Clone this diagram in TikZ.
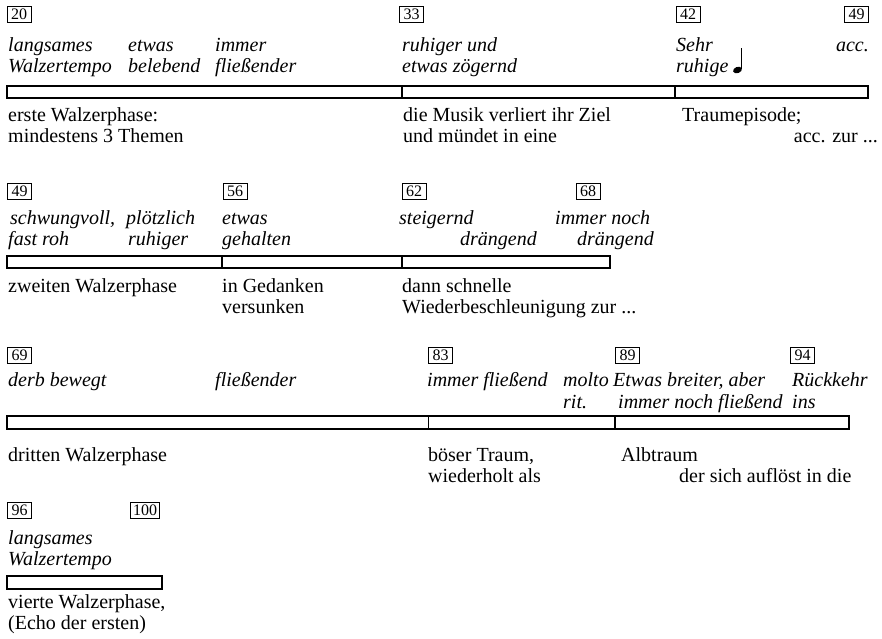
\documentclass[tikz,border=0pt]{standalone}
\usepackage{fontspec}
\setmainfont{Liberation Serif}
\begin{document}
\begin{tikzpicture}[x=1pt,y=-1pt,
  rom/.style={anchor=base west, inner sep=0pt, font=\fontsize{20}{22}\selectfont},
  romr/.style={rom, anchor=base east},
  ita/.style={rom, font=\fontsize{20}{22}\selectfont\itshape},
  itar/.style={ita, anchor=base east},
  num/.style={draw, line width=0.7pt, inner sep=0pt, minimum width=24pt, minimum height=16pt, font=\fontsize{16}{18}\selectfont},
  barbox/.style={draw, line width=1.2pt},
  divider/.style={line width=1.8pt}]
\useasboundingbox (0,0) rectangle (882,638);

% ---------- Row 1 ----------
\node[num] (n20) at (19,14.5) {20};
\node[num] (n33) at (411.5,14.5) {33};
\node[num] (n42) at (688,14.5) {42};
\node[num] (n49a) at (856.5,14.5) {49};

\node[ita] (a1) at (8,51) {langsames};
\node[ita] (a2) at (8,72) {Walzertempo};
\node[ita] (a3) at (128,51) {etwas};
\node[ita] (a4) at (128,72) {belebend};
\node[ita] (a5) at (215,51) {immer};
\node[ita] (a6) at (215,72) {fließender};
\node[ita] (a7) at (402,51) {ruhiger und};
\node[ita] (a8) at (402,72) {etwas zögernd};
\node[ita] (a9) at (676,51) {Sehr};
\node[ita] (a10) at (676,72) {ruhige};
\node[itar] (a11) at (869,51) {acc.};
\fill[rotate around={20:(737.5,70)}] (737.5,70) ellipse (4.6 and 3.1);
\draw[line width=1pt] (741.6,69) -- (741.6,48);

\draw[barbox] (7,86) rectangle (868,98);
\draw[divider] (402,86) -- (402,98);
\draw[divider] (675,86) -- (675,98);

\node[rom] (b1) at (8,121) {erste Walzerphase:};
\node[rom] (b2) at (8,142) {mindestens 3 Themen};
\node[rom] (b3) at (403,121) {die Musik verliert ihr Ziel};
\node[rom] (b4) at (403,142) {und mündet in eine};
\node[rom] (b5) at (682,121) {Traumepisode;};
\node[romr] (b6) at (878,142) {acc. zur ...};

% ---------- Row 2 ----------
\node[num] (n49b) at (19.5,191) {49};
\node[num] (n56) at (235,191) {56};
\node[num] (n62) at (414,191) {62};
\node[num] (n68) at (588,191) {68};

\node[ita] (c1) at (10,224) {schwungvoll,};
\node[ita] (c2) at (8,245) {fast roh};
\node[ita] (c3) at (126,224) {plötzlich};
\node[ita] (c4) at (128,245) {ruhiger};
\node[ita] (c5) at (222,224) {etwas};
\node[ita] (c6) at (222,245) {gehalten};
\node[ita] (c7) at (399,224) {steigernd};
\node[ita] (c8) at (460,245) {drängend};
\node[ita] (c9) at (555,224) {immer noch};
\node[ita] (c10) at (577,245) {drängend};

\draw[barbox] (7,256) rectangle (610,268);
\draw[divider] (222,256) -- (222,268);
\draw[divider] (402,256) -- (402,268);

\node[rom] (d1) at (8,292) {zweiten Walzerphase};
\node[rom] (d2) at (222,292) {in Gedanken};
\node[rom] (d3) at (222,313) {versunken};
\node[rom] (d4) at (402,292) {dann schnelle};
\node[rom] (d5) at (402,313) {Wiederbeschleunigung zur ...};

% ---------- Row 3 ----------
\node[num] (n69) at (19.5,355) {69};
\node[num] (n83) at (440.5,355) {83};
\node[num] (n89) at (627.5,355) {89};
\node[num] (n94) at (802.5,355) {94};

\node[ita] (e1) at (8,386) {derb bewegt};
\node[ita] (e2) at (215,386) {fließender};
\node[ita] (e3) at (427,386) {immer fließend};
\node[ita] (e4) at (563,386) {molto};
\node[ita] (e5) at (563,408) {rit.};
\node[ita] (e6) at (613,386) {Etwas breiter, aber};
\node[ita] (e7) at (618,408) {immer noch fließend};
\node[ita] (e8) at (792,386) {Rückkehr};
\node[ita] (e9) at (792,408) {ins};

\draw[barbox] (7,416) rectangle (849,429);
\draw[divider] (428.5,416) -- (428.5,429);
\draw[divider] (615,416) -- (615,429);

\node[rom] (f1) at (8,461) {dritten Walzerphase};
\node[rom] (f2) at (428,461) {böser Traum,};
\node[rom] (f3) at (428,482) {wiederholt als};
\node[rom] (f4) at (621,461) {Albtraum};
\node[rom] (f5) at (679,482) {der sich auflöst in die};

% ---------- Row 4 ----------
\node[num] (n96) at (19.5,510) {96};
\node[num, minimum width=29pt] (n100) at (145,510) {100};

\node[ita] (g1) at (8,544) {langsames};
\node[ita] (g2) at (8,565) {Walzertempo};

\draw[barbox] (7,576) rectangle (162,589);

\node[rom] (h1) at (8,608) {vierte Walzerphase,};
\node[rom] (h2) at (8,629) {(Echo der ersten)};
\end{tikzpicture}
\end{document}
